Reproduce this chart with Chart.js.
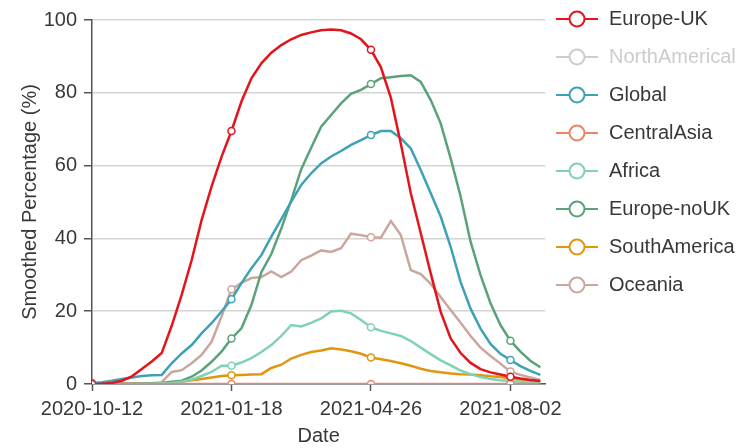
<!DOCTYPE html>
<html>
<head>
<meta charset="utf-8">
<script src="https://cdn.jsdelivr.net/npm/chart.js@4/dist/chart.umd.min.js"></script>
<style>
  html, body { margin: 0; padding: 0; background: #fff; }
  #wrap { width: 754px; height: 448px; }
</style>
</head>
<body>
<div id="wrap"><canvas id="c" width="754" height="448"></canvas></div>
<script>
// Weekly dates (categories)
const dates = [
  '2020-10-12','2020-10-19','2020-10-26','2020-11-02','2020-11-09','2020-11-16','2020-11-23','2020-11-30',
  '2020-12-07','2020-12-14','2020-12-21','2020-12-28','2021-01-04','2021-01-11','2021-01-18','2021-01-25',
  '2021-02-01','2021-02-08','2021-02-15','2021-02-22','2021-03-01','2021-03-08','2021-03-15','2021-03-22',
  '2021-03-29','2021-04-05','2021-04-12','2021-04-19','2021-04-26','2021-05-03','2021-05-10','2021-05-17',
  '2021-05-24','2021-05-31','2021-06-07','2021-06-14','2021-06-21','2021-06-28','2021-07-05','2021-07-12',
  '2021-07-19','2021-07-26','2021-08-02','2021-08-09','2021-08-16','2021-08-23'
];
// Tick labels (also where the markers are shown)
const tickLabels = ['2020-10-12', '2021-01-18', '2021-04-26', '2021-08-02'];

const seriesNames = ['Europe-UK','NorthAmerical','Global','CentralAsia','Africa','Europe-noUK','SouthAmerica','Oceania'];

const europeUK = [0,0.1,0.3,0.9,2.1,4.1,6.2,8.5,16,24.5,
  34,45,54.2,62.4,69.5,77.6,84,88.1,91,93.1,
  94.7,95.9,96.6,97.2,97.4,97.2,96.3,94.7,91.8,87,
  78.6,66,52.4,41.4,30.4,19.8,12.5,8.5,5.8,4.1,
  3.2,2.6,2.0,1.5,1.1,0.8];
const northAmerical = []; // hidden series in the reference, values not shown
const globalS = [0.3,0.5,0.9,1.4,1.8,2.2,2.4,2.5,5.7,8.4,
  10.7,13.9,16.7,19.9,23.3,27.7,31.8,35.4,40.5,45.3,
  50.1,54.7,57.9,60.6,62.5,64,65.7,67,68.4,69.5,
  69.5,67.5,64.7,58.8,52.4,46,37.7,28,20.7,15.2,
  11,8.3,6.6,4.9,3.6,2.5];
const centralAsia = [0,0,0,0,0,0,0,0,0,0,
  0,0,0,0,0,0,0,0,0,0,
  0,0,0,0,0,0,0,0,0,0,
  0,0,0,0,0,0,0,0,0,0,
  0,0,0,0,0,0];
const africa = [0,0,0,0,0,0,0.1,0.2,0.3,0.6,
  1.2,2.2,3.3,5.0,5.0,5.9,7.1,8.8,10.7,13.2,
  16.2,15.8,16.8,18,19.9,20.1,19.4,17.6,15.6,14.6,
  13.9,13.2,11.8,10,8.2,6.5,5.1,3.7,2.7,1.9,
  1.4,1.0,0.8,0.6,0.5,0.4];
const europeNoUK = [0,0,0,0,0,0.1,0.2,0.3,0.6,0.9,
  2.0,3.7,6.1,8.9,12.5,15.3,21.7,30.7,35.7,42.7,
  50.5,59,64.9,70.7,73.9,77.1,79.7,80.8,82.4,84,
  84.3,84.6,84.8,83,78,71.6,62,51.5,39.1,29.9,
  22.2,16.2,11.9,8.9,6.4,4.6];
const southAmerica = [0,0,0,0,0,0,0,0.1,0.3,0.6,
  1.0,1.4,1.8,2.2,2.4,2.5,2.6,2.7,4.4,5.3,
  7.0,8.0,8.8,9.2,9.8,9.5,9.0,8.3,7.3,6.8,
  6.3,5.7,5.0,4.2,3.6,3.2,2.9,2.7,2.6,2.4,
  2.1,1.9,1.6,1.2,0.9,0.6];
const oceania = [0.2,0.2,0.2,0.2,0.2,0.2,0.2,0.5,3.3,3.8,
  5.7,8,11.6,18.5,26,27.8,29.1,29.4,30.9,29.4,
  30.9,34,35.3,36.7,36.3,37.3,41.3,40.9,40.3,40.2,
  44.8,40.9,31.3,30.2,27.5,23.9,20.3,16.8,13.2,10,
  7.7,5.6,3.4,2.5,1.8,1.1];

const seriesValues = [europeUK, northAmerical, globalS, centralAsia, africa, europeNoUK, southAmerica, oceania];
const seriesColors = ['#e3141c', '#cccccc', '#3ea2b7', '#ee8467', '#7fd3b2', '#5ba27a', '#e0960f', '#c9a79c'];
const hiddenSeries = ['NorthAmerical'];

const FONT = "'Liberation Sans', Arial, Helvetica, sans-serif";
const TEXT = '#383838';
const AXIS = '#555555';

const tickIdx = tickLabels.map(t => dates.indexOf(t));

function legendIcon(color) {
  const c = document.createElement('canvas');
  c.width = 44; c.height = 20;
  const g = c.getContext('2d');
  g.strokeStyle = color; g.lineWidth = 2;
  g.beginPath(); g.moveTo(1, 10); g.lineTo(43, 10); g.stroke();
  g.beginPath(); g.arc(22, 10, 7.5, 0, Math.PI * 2);
  g.fillStyle = '#fff'; g.fill(); g.stroke();
  return c;
}

const datasets = seriesNames.map((name, k) => ({
  label: name,
  data: seriesValues[k].map((v, i) => ({ x: i, y: v })),
  borderColor: seriesColors[k],
  backgroundColor: '#ffffff',
  borderWidth: 2.5,
  tension: 0,
  fill: false,
  hidden: hiddenSeries.includes(name),
  pointRadius: ctx => tickIdx.includes(ctx.dataIndex) ? 3.5 : 0,
  pointBorderWidth: 1.5,
  pointBackgroundColor: '#ffffff',
  pointBorderColor: seriesColors[k],
  icon: legendIcon(seriesColors[k])
}));

const placeLegend = {
  id: 'placeLegend',
  afterLayout(chart) {
    const lg = chart.legend;
    if (lg) { lg.left = 537; lg.top = -9; lg.bottom = 448; }
  }
};

new Chart(document.getElementById('c'), {
  type: 'line',
  data: { datasets },
  plugins: [placeLegend],
  options: {
    responsive: false,
    animation: false,
    events: [],
    layout: { padding: { left: 0, right: 0, top: 20, bottom: 0 } },
    plugins: {
      tooltip: { enabled: false },
      legend: {
        position: 'right',
        align: 'start',
        maxWidth: 211,
        labels: {
          usePointStyle: true,
          pointStyleWidth: 44,
          padding: 18,
          font: { family: FONT, size: 20 },
          color: TEXT,
          generateLabels(chart) {
            return chart.data.datasets.map((ds, i) => {
              const hid = ds.hidden;
              return {
                text: ds.label,
                datasetIndex: i,
                hidden: false,
                fontColor: hid ? '#cccccc' : TEXT,
                pointStyle: hid ? legendIcon('#cccccc') : ds.icon,
                strokeStyle: ds.borderColor,
                fillStyle: '#fff',
                lineWidth: 0
              };
            });
          }
        }
      }
    },
    scales: {
      x: {
        type: 'linear',
        min: 0,
        max: 45.5,
        afterBuildTicks: s => { s.ticks = tickIdx.map(v => ({ value: v })); },
        afterFit: s => { s.height = 64; },
        ticks: {
          autoSkip: false,
          maxRotation: 0,
          padding: 6,
          color: TEXT,
          font: { family: FONT, size: 20 },
          callback: v => dates[v]
        },
        grid: { drawOnChartArea: false, tickLength: 7, tickColor: AXIS, tickWidth: 1.5 },
        border: { color: AXIS, width: 1.5 },
        title: { display: true, text: 'Date', color: TEXT, font: { family: FONT, size: 20 }, padding: { top: 0, bottom: 0 } }
      },
      y: {
        min: 0,
        max: 100,
        afterFit: s => { s.width = 92; },
        ticks: { stepSize: 20, padding: 7, color: TEXT, font: { family: FONT, size: 20 } },
        grid: { color: '#d4d4d4', lineWidth: 1.5, tickLength: 8, tickColor: AXIS, tickWidth: 1.5 },
        border: { color: AXIS, width: 1.5 },
        title: { display: true, text: 'Smoothed Percentage (%)', color: TEXT, font: { family: FONT, size: 20 }, padding: { top: 18, bottom: 0 } }
      }
    }
  }
});
</script>
</body>
</html>
